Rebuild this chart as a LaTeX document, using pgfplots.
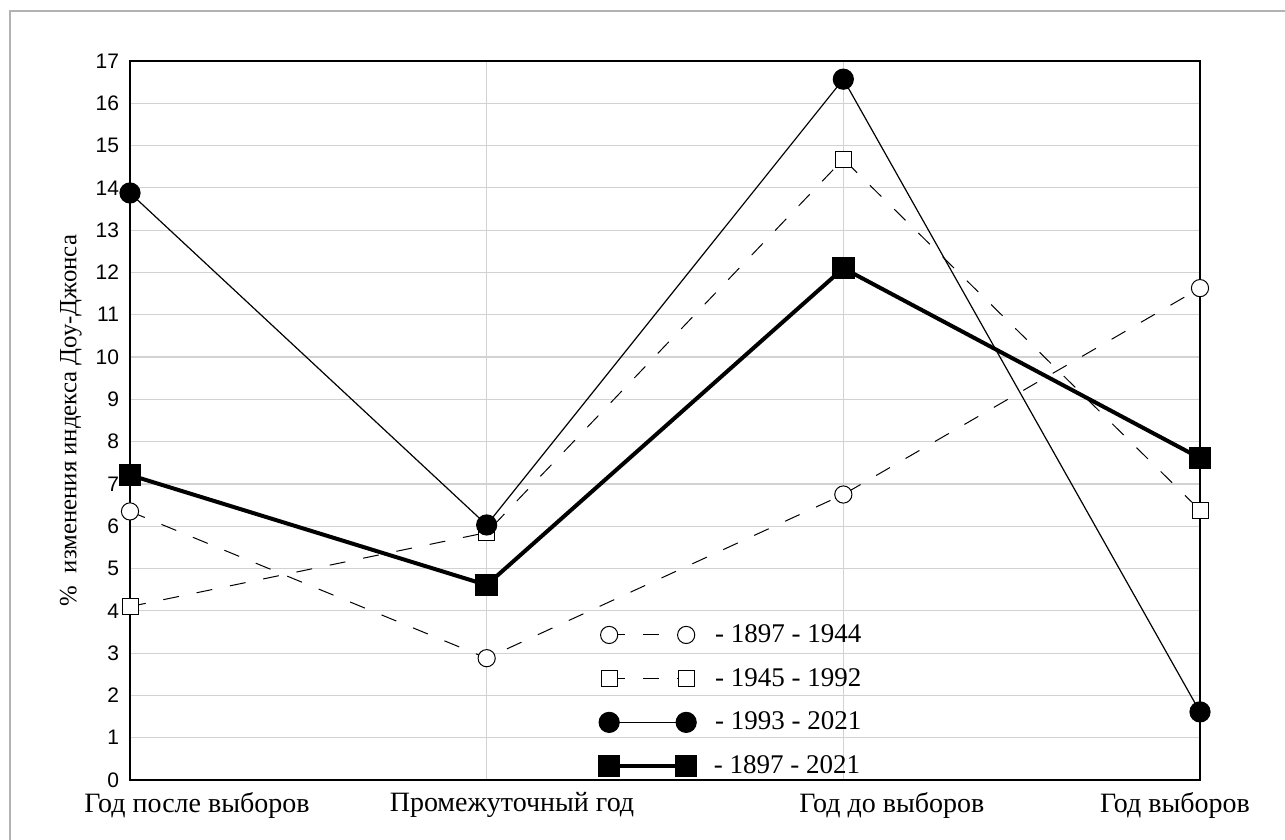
\documentclass[border=0pt]{standalone}
\usepackage{fontspec}
\setmainfont{Liberation Serif}
\newfontfamily\arialfont{Liberation Sans}
\usepackage{pgfplots}
\pgfplotsset{compat=1.18}
\newcommand{\lf}{\fontsize{13.5}{15}\selectfont\hspace{7.5pt}}
\begin{document}
\begin{tikzpicture}
\path[use as bounding box] (0,0) rectangle (642.5pt,420pt);
\draw[gray!60, line width=0.8pt] (5pt,0pt) -- (5pt,414.5pt) -- (642.5pt,414.5pt);
\begin{axis}[
  at={(65pt,30pt)}, anchor=south west,
  scale only axis, width=535pt, height=359.5pt,
  xmin=0, xmax=3, ymin=0, ymax=17,
  ytick={0,...,17},
  xtick={0,1,2,3}, xticklabels={},
  extra x ticks={0.188,1.071,2.136,2.93},
  extra x tick labels={Год после выборов,Промежуточный год,Год до выборов,Год выборов},
  extra x tick style={grid=none, major tick length=0pt, xticklabel style={font=\fontsize{14}{16}\selectfont, yshift=-2.5pt}},
  grid=major, major grid style={gray!35, line width=0.6pt},
  major tick length=0pt,
  axis line style={line width=0.9pt},
  /pgf/number format/assume math mode=true,
  yticklabel style={font=\arialfont\fontsize{10.5}{12}\selectfont, xshift=-2pt},
  ylabel={\%\ \ изменения индекса Доу-Джонса},
  ylabel style={font=\fontsize{12.4}{14}\selectfont},
  legend style={at={(0.4325,0.228)}, anchor=north west, draw=none, fill=none,
    row sep=7.4pt},
  legend cell align=left,
  legend image code/.code={\draw[#1] plot coordinates {(0pt,0pt) (38.5pt,0pt)};},
]
\addplot[black, line width=0.5pt, dash pattern=on 8pt off 9pt, mark=*, mark size=4.3pt,
  mark options={solid, fill=white, draw=black}]
  coordinates {(0,6.35) (1,2.88) (2,6.75) (3,11.63)};
\addlegendentry{\lf - 1897 - 1944}
\addplot[black, line width=0.5pt, dash pattern=on 8pt off 9pt, mark=square*, mark size=4pt,
  mark options={solid, fill=white, draw=black}]
  coordinates {(0,4.1) (1,5.85) (2,14.68) (3,6.38)};
\addlegendentry{\lf - 1945 - 1992}
\addplot[black, line width=0.6pt, mark=*, mark size=5pt, mark options={solid, fill=black}]
  coordinates {(0,13.88) (1,6.03) (2,16.57) (3,1.61)};
\addlegendentry{\lf - 1993 - 2021}
\addplot[black, line width=2pt, mark=square*, mark size=4.6pt, mark options={solid, fill=black}]
  coordinates {(0,7.21) (1,4.61) (2,12.1) (3,7.61)};
\addlegendentry{\lf\hspace{-4pt} - 1897 - 2021}
\end{axis}
\end{tikzpicture}
\end{document}
